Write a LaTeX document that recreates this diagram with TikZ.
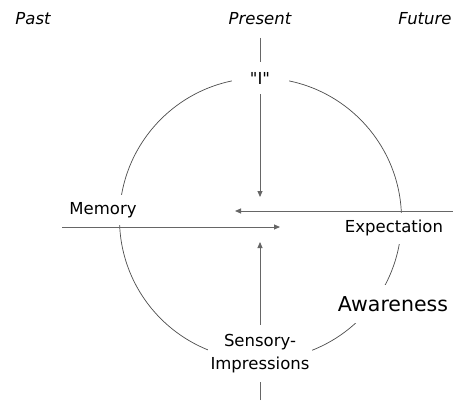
\documentclass[tikz,border=0pt]{standalone}
\usepackage{fontspec}
\setmainfont{DejaVu Sans}[Ligatures=TeXOff]
\usetikzlibrary{arrows.meta}
\begin{document}
\begin{tikzpicture}[x=1pt,y=1pt,
  tlbl/.style={font=\fontsize{16.5}{23}\selectfont\itshape, inner sep=0pt},
  box/.style={fill=white, inner sep=0pt, font=\fontsize{16.5}{23}\selectfont, align=center},
  conn/.style={draw=black!60, line width=0.9pt, -{Triangle[length=6pt,width=5pt]}},
  ring/.style={draw=black!70, line width=0.7pt}]
\useasboundingbox (0,0) rectangle (453,400);
\fill[white] (0,0) rectangle (453,400);
% circle
\draw[ring] (260.5,181) circle[radius=141];
% free ends
\coordinate (topend) at (260,362);
\coordinate (topin) at (260,203);
\coordinate (botend) at (260,0);
\coordinate (botin) at (260,158);
\coordinate (memend) at (62,173);
\coordinate (memin) at (280,173);
\coordinate (expend) at (453,189);
\coordinate (expin) at (235,189);
\draw[conn] (topend) -- (topin);
\draw[conn] (botend) -- (botin);
\draw[conn] (memend) -- (memin);
\draw[conn] (expend) -- (expin);
% boxes
\node[box, minimum width=57pt, minimum height=32pt] (I) at (260,322) {"I"};
\node[box, minimum width=104pt, minimum height=57pt] (sens) at (260,46.5) {Sensory-\\Impressions};
\node[box, minimum width=121pt, minimum height=38pt, font=\fontsize{20.5}{24}\selectfont] (aware) at (393,96) {Awareness};
\node[box, minimum width=118pt, minimum height=31pt] (expect) at (394,172) {Expectation};
\node[box, minimum width=86pt, minimum height=30pt] (mem) at (103,190) {Memory};
% time labels
\node[tlbl] (past) at (33,381) {Past};
\node[tlbl] (present) at (260,381) {Present};
\node[tlbl] (future) at (425,381) {Future};
\end{tikzpicture}
\end{document}
